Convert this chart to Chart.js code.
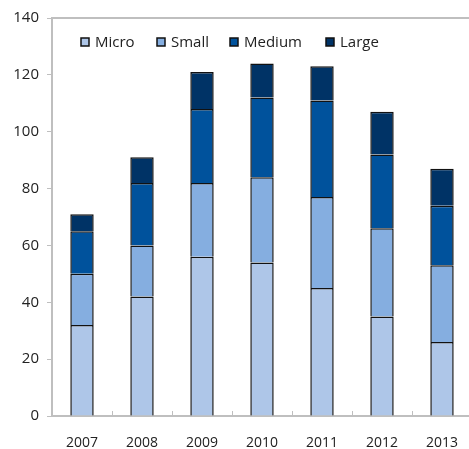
<!DOCTYPE html>
<html>
<head>
<meta charset="utf-8">
<script src="https://cdn.jsdelivr.net/npm/chart.js@4.4.0/dist/chart.umd.min.js"></script>
<style>
html,body{margin:0;padding:0;background:#fff;overflow:hidden;width:469px;height:449px;}
#wrap{position:absolute;left:0;top:0;width:474px;height:449px;}
</style>
</head>
<body>
<div id="wrap"><canvas id="c" width="474" height="449"></canvas></div>
<script>
const categories = ['2007','2008','2009','2010','2011','2012','2013'];
const seriesNames = ['Micro','Small','Medium','Large'];
const micro  = [32, 42, 56, 54, 45, 35, 26];
const small  = [18, 18, 26, 30, 32, 31, 27];
const medium = [15, 22, 26, 28, 34, 26, 21];
const large  = [6, 9, 13, 12, 12, 15, 13];
const yTicks = [0, 20, 40, 60, 80, 100, 120, 140];
const colors = ['#aec6e8', '#85aee0', '#00529c', '#003366'];

const FONT = '"Open Sans", "Noto Sans", sans-serif';
const values = [micro, small, medium, large];

const legendPlugin = {
  id: 'insideLegend',
  afterDraw(chart) {
    const ctx = chart.ctx;
    const a = chart.chartArea;
    const offs = [29, 105, 178, 274];
    ctx.save();
    ctx.font = '15px ' + FONT;
    ctx.textBaseline = 'middle';
    seriesNames.forEach((n, i) => {
      const x = a.left + offs[i];
      const y = a.top + 24;
      ctx.fillStyle = colors[i];
      ctx.fillRect(x, y - 4, 8, 8);
      ctx.strokeStyle = '#111';
      ctx.lineWidth = 1.5;
      ctx.strokeRect(x, y - 4, 8, 8);
      ctx.fillStyle = '#222';
      ctx.fillText(n, x + 14, y + 1);
    });
    ctx.restore();
  }
};

const framePlugin = {
  id: 'frame',
  beforeDatasetsDraw(chart) {
    const ctx = chart.ctx;
    const a = chart.chartArea;
    const xs = chart.scales.x;
    ctx.save();
    ctx.strokeStyle = '#bfbfbf';
    ctx.lineWidth = 2;
    ctx.beginPath();
    ctx.moveTo(a.left, a.top);
    ctx.lineTo(a.right, a.top);
    ctx.stroke();
    ctx.lineWidth = 1;
    const half = (xs.getPixelForValue(1) - xs.getPixelForValue(0)) / 2;
    for (let i = 0; i < categories.length - 1; i++) {
      const x = Math.round(xs.getPixelForValue(i) + half) + 0.5;
      ctx.beginPath();
      ctx.moveTo(x, a.bottom);
      ctx.lineTo(x, a.bottom - 5);
      ctx.stroke();
    }
    ctx.restore();
  }
};

new Chart(document.getElementById('c'), {
  type: 'bar',
  data: {
    labels: categories,
    datasets: seriesNames.map((n, i) => ({
      label: n,
      data: values[i],
      backgroundColor: colors[i],
      borderColor: '#111',
      borderWidth: 1.5,
      borderSkipped: 'bottom',
      barPercentage: 0.39,
      categoryPercentage: 1.0
    }))
  },
  options: {
    responsive: false,
    animation: false,
    layout: { padding: { top: 18, right: 2, left: 0, bottom: 0 } },
    plugins: { legend: { display: false }, tooltip: { enabled: false } },
    scales: {
      x: {
        stacked: true,
        grid: { display: false },
        border: { display: true, color: '#bfbfbf', width: 2 },
        ticks: { color: '#222', font: { family: FONT, size: 14 }, padding: 11, maxRotation: 0 },
        afterFit(s) { s.height = 33; }
      },
      y: {
        stacked: true,
        min: 0, max: 140,
        afterBuildTicks(s) { s.ticks = yTicks.map(v => ({ value: v })); },
        grid: { display: true, drawOnChartArea: false, drawTicks: true, tickLength: 5, color: '#bfbfbf' },
        border: { display: true, color: '#bfbfbf', width: 2 },
        ticks: { color: '#222', font: { family: FONT, size: 15 }, padding: 8 },
        afterFit(s) { s.width = 52; }
      }
    }
  },
  plugins: [framePlugin, legendPlugin]
});
</script>
</body>
</html>
